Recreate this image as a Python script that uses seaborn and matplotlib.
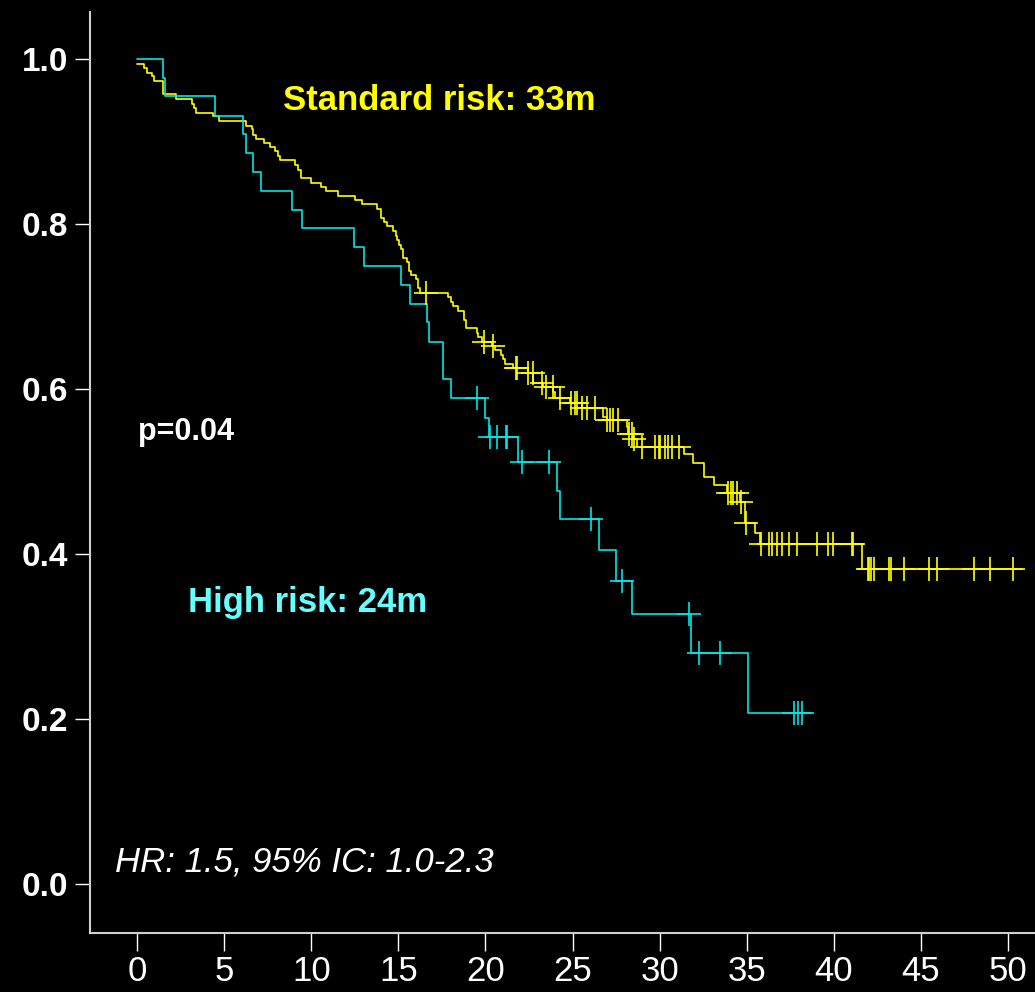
import numpy as np
import pandas as pd
import seaborn as sns
import matplotlib
matplotlib.use("Agg")
import matplotlib.pyplot as plt

# Standard risk group (yellow): event times (months) and survival after each step
std_time = [0.0, 0.40, 0.55, 0.88, 0.95, 1.49, 2.26, 3.18, 3.27, 3.37, 4.36, 4.70,
            6.28, 6.57, 6.66, 6.85, 7.29, 7.62, 7.90, 8.09, 8.19, 9.05, 9.24, 9.40,
            10.01, 10.55, 10.83, 11.54, 12.50, 12.92, 13.75, 14.03, 14.16, 14.35,
            14.70, 14.84, 14.95, 15.04, 15.14, 15.27, 15.50, 15.60, 15.72, 16.00,
            16.13, 16.23, 17.86, 18.05, 18.14, 18.43, 18.76, 18.86, 19.49, 19.58,
            19.83, 20.35, 20.54, 20.92, 21.02, 21.11, 21.59, 22.45, 22.74, 23.31,
            23.89, 23.99, 24.85, 25.52, 26.76, 26.96, 28.10, 28.20, 28.48, 28.68,
            31.40, 31.90, 32.54, 32.56, 33.14, 33.85, 34.61, 34.90, 34.91, 35.47,
            35.76, 41.64, 50.79]
std_surv = [0.994, 0.989, 0.983, 0.979, 0.973, 0.957, 0.952, 0.946, 0.940, 0.935, 0.931, 0.925,
            0.919, 0.915, 0.908, 0.903, 0.898, 0.893, 0.888, 0.882, 0.877, 0.872, 0.866, 0.856,
            0.850, 0.845, 0.840, 0.834, 0.829, 0.824, 0.818, 0.807, 0.802, 0.797,
            0.792, 0.786, 0.781, 0.775, 0.770, 0.759, 0.754, 0.743, 0.738, 0.733,
            0.722, 0.717, 0.712, 0.706, 0.701, 0.695, 0.684, 0.674, 0.668, 0.663,
            0.657, 0.652, 0.647, 0.641, 0.636, 0.630, 0.625, 0.619, 0.607, 0.602,
            0.596, 0.589, 0.583, 0.577, 0.566, 0.562, 0.554, 0.546, 0.539, 0.530,
            0.521, 0.511, 0.502, 0.493, 0.484, 0.474, 0.463, 0.449, 0.438, 0.426,
            0.412, 0.382, 0.382]
std_censor = [16.56, 19.93, 20.44, 21.75, 21.82, 22.45, 22.72, 23.22, 23.45, 23.85,
              24.27, 24.89, 25.13, 25.27, 25.52, 25.81, 26.28, 27.00, 27.15, 27.34,
              27.62, 28.25, 28.39, 28.55, 29.00, 29.73, 29.98, 30.02, 30.30, 30.46,
              30.72, 31.11, 33.94, 34.08, 34.23, 34.42, 34.65, 34.94, 35.80, 36.30,
              36.44, 36.72, 37.04, 37.41, 37.87, 39.05, 39.65, 39.97, 41.03, 41.12,
              41.95, 42.04, 42.14, 42.33, 43.19, 43.29, 44.05, 45.47, 45.91, 48.05,
              48.97, 50.28]

# High risk group (cyan)
high_time = [0.0, 1.50, 1.58, 4.46, 6.08, 6.28, 6.66, 7.10, 8.90, 9.47, 12.44, 13.03,
             15.14, 15.66, 16.62, 16.75, 17.57, 18.01, 19.97, 20.21, 21.88, 24.08,
             24.27, 26.51, 27.47, 28.43, 31.78, 35.09, 38.69]
high_surv = [1.0, 0.977, 0.955, 0.931, 0.909, 0.886, 0.863, 0.840, 0.817, 0.795, 0.772, 0.749,
             0.726, 0.703, 0.681, 0.657, 0.612, 0.589, 0.565, 0.542, 0.512, 0.477,
             0.443, 0.405, 0.368, 0.327, 0.280, 0.208, 0.208]
high_censor = [19.49, 20.25, 20.69, 21.17, 21.25, 22.11, 23.64, 26.04, 27.83, 31.70,
               32.26, 33.46, 37.73, 37.96, 38.19]

x_ticks = [0, 5, 10, 15, 20, 25, 30, 35, 40, 45, 50]
y_ticks = [0.0, 0.2, 0.4, 0.6, 0.8, 1.0]

YELLOW = "#FFFF00"
CYAN = "#00E6E6"

sns.set_style("dark", {"axes.facecolor": "black", "figure.facecolor": "black"})
plt.rcParams["font.family"] = ["Liberation Sans", "DejaVu Sans"]


def censor_points(times, surv, cens):
    idx = np.searchsorted(times, cens, side="right") - 1
    return pd.DataFrame({"t": cens, "s": np.array(surv)[idx]})


fig = plt.figure(figsize=(10.35, 9.92), dpi=100, facecolor="black")
ax = fig.add_axes([0.087, 0.0595, 0.913, 0.9285])
ax.set_facecolor("black")

for times, surv, cens, col in [(std_time, std_surv, std_censor, YELLOW),
                               (high_time, high_surv, high_censor, CYAN)]:
    df = pd.DataFrame({"t": times, "s": surv})
    sns.lineplot(data=df, x="t", y="s", drawstyle="steps-post", color=col,
                 linewidth=1.2, estimator=None, sort=False, ax=ax)
    cdf = censor_points(times, surv, cens)
    sns.scatterplot(data=cdf, x="t", y="s", marker="+", s=280, color=col,
                    linewidth=1.2, ax=ax, zorder=3)

ax.set_xlim(-2.7, 51.55)
ax.set_ylim(-0.059, 1.057)
ax.set_xticks(x_ticks)
ax.set_xticklabels([str(v) for v in x_ticks])
ax.set_yticks(y_ticks)
ax.set_yticklabels([f"{v:.1f}" for v in y_ticks])
ax.set_xlabel("")
ax.set_ylabel("")
ax.grid(False)

for side in ["top", "right"]:
    ax.spines[side].set_visible(False)
for side in ["left", "bottom"]:
    ax.spines[side].set_visible(True)
    ax.spines[side].set_color("#CFCFCF")
    ax.spines[side].set_linewidth(1.5)

ax.tick_params(axis="x", colors="white", labelsize=25, length=13, width=1,
               direction="out", pad=3, bottom=True)
ax.tick_params(axis="y", colors="white", labelsize=24, length=11, width=1,
               direction="out", pad=5, left=True)
for lab in ax.get_yticklabels():
    lab.set_fontweight("bold")

ax.text(8.36, 0.950, "Standard risk: 33m", color=YELLOW, fontsize=25,
        fontweight="bold", va="center", ha="left")
ax.text(2.91, 0.342, "High risk: 24m", color="#66FFFF", fontsize=25,
        fontweight="bold", va="center", ha="left")
ax.text(0.03, 0.548, "p=0.04", color="white", fontsize=22,
        fontweight="bold", va="center", ha="left")
ax.text(-1.29, 0.027, "HR: 1.5, 95% IC: 1.0-2.3", color="white", fontsize=25,
        fontstyle="italic", va="center", ha="left")

fig.savefig("out.png", dpi=100, facecolor="black")
